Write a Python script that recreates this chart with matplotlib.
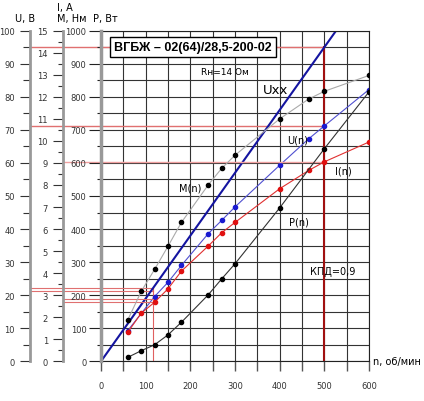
import matplotlib
matplotlib.use('Agg')
import matplotlib.pyplot as plt
from matplotlib.ticker import MultipleLocator

plt.rcParams['font.family'] = ['DejaVu Sans']

# data
n_pts = [60, 90, 120, 150, 180, 240, 270, 300, 400, 465, 500, 600]
m_nm = [1.88, 3.17, 4.17, 5.22, 6.3, 8.0, 8.75, 9.35, 11.0, 11.9, 12.25, 12.97]
i_a = [1.32, 2.18, 2.68, 3.29, 4.09, 5.23, 5.83, 6.3, 7.83, 8.66, 9.05, 9.95]

u_n = [60, 120, 150, 180, 240, 270, 300, 400, 465, 500, 600]
u_v = [9.3, 19.6, 23.9, 29.0, 38.6, 42.6, 46.7, 59.3, 67.3, 71.2, 82.2]

p_n = [60, 90, 120, 150, 180, 240, 270, 300, 400, 500, 600]
p_w = [12, 32, 50, 80, 118, 201, 249, 295, 464, 643, 815]

uxx_n = [0, 600]
uxx_u = [0, 114]

# reference (red) lines
ref_n = 500
ref_u_xx = 95.0
ref_u_load = 71.2
ref_i_load = 9.05
low_n = 117
low_u = [22.1, 21.2]
low_i = [2.83, 2.68]

title = 'ВГБЖ – 02(64)/28,5-200-02'

U_POS = -0.265
IM_POS = -0.142

fig = plt.figure(figsize=(4.24, 4.02), dpi=100)
ax = fig.add_axes([101/424, 39.7/402, 268/424, 330.6/402])
ax.set_xlim(0, 600)
ax.set_ylim(0, 100)

# U axis
ax.spines['left'].set_position(('axes', U_POS))
ax.spines['left'].set_color('#999999')
ax.spines['left'].set_linewidth(2)
for s in ['top', 'right', 'bottom']:
    ax.spines[s].set_color('#222222')
    ax.spines[s].set_linewidth(0.8)
ax.yaxis.set_major_locator(MultipleLocator(10))
ax.yaxis.set_minor_locator(MultipleLocator(5))
ax.xaxis.set_major_locator(MultipleLocator(100))
ax.xaxis.set_minor_locator(MultipleLocator(50))
ax.tick_params(axis='y', which='major', length=7.2, width=0.8, color='#333333',
               labelsize=6, pad=3.6, labelcolor='#333333')
ax.tick_params(axis='y', which='minor', length=5, width=0.8, color='#333333')
ax.tick_params(axis='x', which='both', length=7.5, width=1, color='#555555',
               labelsize=6, pad=6.5, labelcolor='#333333')
ax.grid(which='both', color='#333333', lw=0.8)
ax.set_axisbelow(True)

# I, M axis
axIM = ax.twinx()
axIM.set_ylim(0, 15)
for s in ['top', 'right', 'bottom']:
    axIM.spines[s].set_visible(False)
axIM.spines['left'].set_visible(True)
axIM.spines['left'].set_position(('axes', IM_POS))
axIM.spines['left'].set_color('#999999')
axIM.spines['left'].set_linewidth(2)
axIM.yaxis.set_ticks_position('left')
axIM.yaxis.set_label_position('left')
axIM.yaxis.set_major_locator(MultipleLocator(1))
axIM.yaxis.set_minor_locator(MultipleLocator(0.5))
axIM.tick_params(which='major', length=7.2, width=0.8, color='#333333',
                 labelsize=6, pad=3.6, labelcolor='#333333')
axIM.tick_params(which='minor', length=3.6, width=0.8, color='#333333')

# P axis
axP = ax.twinx()
axP.set_ylim(0, 1000)
for s in ['top', 'right', 'bottom']:
    axP.spines[s].set_visible(False)
axP.spines['left'].set_visible(True)
axP.spines['left'].set_color('#999999')
axP.spines['left'].set_linewidth(2.5)
axP.yaxis.set_ticks_position('left')
axP.yaxis.set_label_position('left')
axP.yaxis.set_major_locator(MultipleLocator(100))
axP.yaxis.set_minor_locator(MultipleLocator(50))
axP.tick_params(which='major', length=9, width=0.8, color='#222222',
                labelsize=6, pad=1.5, labelcolor='#333333')
axP.tick_params(which='minor', length=3, width=0.8, color='#222222')

# red reference lines
ax.plot([U_POS * 600, ref_n], [ref_u_xx, ref_u_xx], color='#e07070', lw=1, clip_on=False)
ax.plot([U_POS * 600, ref_n], [ref_u_load, ref_u_load], color='#e07070', lw=1, clip_on=False)
axIM.plot([IM_POS * 600, ref_n], [ref_i_load, ref_i_load], color='#f0a0a0', lw=1, clip_on=False)
ax.plot([ref_n, ref_n], [0, ref_u_xx], color='#a01010', lw=1.5)
for u in low_u:
    ax.plot([U_POS * 600, low_n], [u, u], color='#e07070', lw=0.8, clip_on=False)
for i in low_i:
    axIM.plot([IM_POS * 600, low_n], [i, i], color='#e07070', lw=0.8, clip_on=False)
ax.plot([low_n, low_n], [0, low_u[0]], color='#e06060', lw=0.8)

# curves
ax.plot(uxx_n, uxx_u, color='#1414a0', lw=1.5)
ax.plot(u_n, u_v, color='#5050d0', lw=0.8, marker='o', ms=3,
        mfc='#1a1ad0', mec='#1a1ad0')
axIM.plot(n_pts, m_nm, color='#aaaaaa', lw=0.8, marker='o', ms=3,
          mfc='black', mec='black')
axIM.plot(n_pts, i_a, color='#e03030', lw=0.8, marker='o', ms=3,
          mfc='#e01010', mec='#e01010')
axP.plot(p_n, p_w, color='#333333', lw=0.8, marker='o', ms=3,
         mfc='black', mec='black')

# texts
ax.text(206, 95, title, ha='center', va='center', fontsize=9, fontweight='bold',
        family='Liberation Sans',
        bbox=dict(boxstyle='square,pad=0.3', fc='white', ec='black', lw=1))
ax.text(278, 87.7, 'Rн=14 Ом', ha='center', va='center', fontsize=6.5)
ax.text(390, 82.2, 'Uxx', ha='center', va='center', fontsize=9.5)
ax.text(199, 52.5, 'M(n)', ha='center', va='center', fontsize=7)
ax.text(440, 67, 'U(n)', ha='center', va='center', fontsize=7)
ax.text(542, 57.7, 'I(n)', ha='center', va='center', fontsize=7)
ax.text(444, 42.3, 'P(n)', ha='center', va='center', fontsize=7)
ax.text(468, 27.3, 'КПД=0,9', ha='left', va='center', fontsize=7)

ax.set_ylabel('U, В', rotation=0, ha='center', va='center', fontsize=7)
ax.yaxis.set_label_coords(-0.282, 1.038)
axIM.set_ylabel('I, A\nM, Нм', rotation=0, ha='left', va='center', fontsize=7,
                linespacing=1.1, multialignment='left')
axIM.yaxis.set_label_coords(-0.164, 1.054)
axP.set_ylabel('P, Вт', rotation=0, ha='left', va='center', fontsize=7)
axP.yaxis.set_label_coords(-0.03, 1.038)
ax.set_xlabel('n, об/мин', ha='left', va='center', fontsize=7)
ax.xaxis.set_label_coords(1.015, 0.0)

fig.savefig('out.png', dpi=100)
